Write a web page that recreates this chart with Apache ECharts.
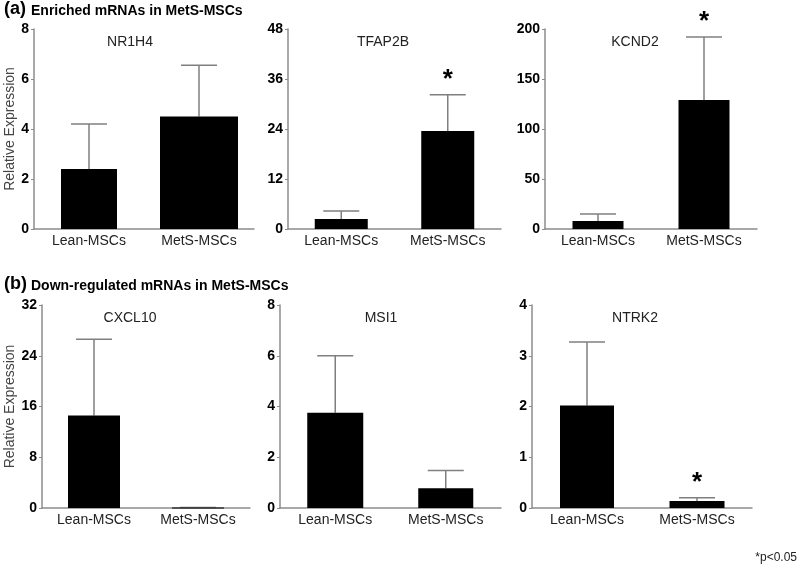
<!DOCTYPE html>
<html>
<head>
<meta charset="utf-8">
<script src="https://cdn.jsdelivr.net/npm/echarts@6/dist/echarts.min.js"></script>
<style>
  html, body { margin: 0; padding: 0; background: #fff; }
  #main { width: 800px; height: 569px; }
</style>
</head>
<body>
<div id="main"></div>
<script>
// groups and genes
const groups = ['Lean-MSCs', 'MetS-MSCs'];
const genes = ['NR1H4', 'TFAP2B', 'KCND2', 'CXCL10', 'MSI1', 'NTRK2'];
// y axis ranges
const yMax = [8, 48, 200, 32, 8, 4];
const yStep = [2, 12, 50, 8, 2, 1];
// mean relative expression
const meanLean = [2.4, 2.4, 8, 14.6, 3.75, 2.02];
const meanMetS = [4.5, 23.5, 129, 0.08, 0.78, 0.14];
// upper end of error bars
const errLean = [4.2, 4.3, 15, 26.6, 6.0, 3.27];
const errMetS = [6.55, 32.2, 192, 0.08, 1.48, 0.2];
// significance (*p<0.05)
const starLean = [0, 0, 0, 0, 0, 0];
const starMetS = [0, 1, 1, 0, 0, 1];

const FONT = '"Liberation Sans", Arial, sans-serif';

// panel layout
const grids = [
  { left: 34, top: 29, width: 220, height: 200 },
  { left: 288, top: 29, width: 213, height: 200 },
  { left: 545, top: 29, width: 212, height: 200 },
  { left: 42, top: 305, width: 208, height: 203 },
  { left: 280, top: 305, width: 221, height: 203 },
  { left: 532, top: 305, width: 220, height: 203 }
].map(g => Object.assign({ containLabel: false, outerBoundsMode: 'none' }, g));
const barW = [[56, 78], [53, 53], [51, 51], [52, 52], [56, 55], [54, 55]];
const titlePos = [[125, 30], [378, 30], [630, 30], [125, 306], [376, 306], [630, 306]];

const chart = echarts.init(document.getElementById('main'));

const makeRender = (k) => function (params, api) {
  const i = api.value(0);
  const mean = api.value(1);
  const top = api.value(2);
  const star = api.value(3);
  const base = api.coord([i, 0]);
  const p = api.coord([i, mean]);
  const e = api.coord([i, top]);
  const w = barW[k][i];
  const children = [
    {
      type: 'line',
      shape: { x1: p[0], y1: p[1], x2: e[0], y2: e[1] },
      style: { stroke: '#7f7f7f', lineWidth: 1.5 }
    },
    {
      type: 'line',
      shape: { x1: e[0] - 18, y1: e[1], x2: e[0] + 18, y2: e[1] },
      style: { stroke: '#7f7f7f', lineWidth: 1.5 }
    },
    {
      type: 'rect',
      shape: { x: base[0] - w / 2, y: p[1], width: w, height: Math.max(base[1] - p[1], 1) },
      style: { fill: '#000' }
    }
  ];
  if (star) {
    children.push({
      type: 'text',
      style: {
        text: '*', x: e[0], y: e[1] - 2,
        textAlign: 'center', textVerticalAlign: 'bottom',
        font: 'bold 26px ' + FONT, fill: '#000'
      }
    });
  }
  return { type: 'group', children: children };
};

const option = {
  animation: false,
  backgroundColor: '#fff',
  textStyle: { fontFamily: FONT },
  title: genes.map((g, k) => ({
    text: g,
    left: titlePos[k][0],
    top: titlePos[k][1],
    textAlign: 'center',
    textStyle: { fontSize: 14, fontWeight: 'normal', color: '#222', fontFamily: FONT }
  })),
  grid: grids,
  xAxis: genes.map((g, k) => ({
    type: 'category',
    gridIndex: k,
    data: groups,
    axisLine: { lineStyle: { color: '#8c8c8c', width: 1.5 } },
    axisTick: { show: false },
    axisLabel: { color: '#222', fontSize: 14, margin: 5, fontFamily: FONT }
  })),
  yAxis: genes.map((g, k) => ({
    type: 'value',
    gridIndex: k,
    min: 0,
    max: yMax[k],
    interval: yStep[k],
    name: (k === 0 || k === 3) ? 'Relative Expression' : '',
    nameLocation: 'middle',
    nameGap: k === 0 ? 16 : 24,
    nameTextStyle: { color: '#444', fontSize: 14, fontFamily: FONT },
    axisLine: { show: true, lineStyle: { color: '#8c8c8c', width: 1.5 } },
    axisTick: { show: true, length: 3, lineStyle: { color: '#8c8c8c' } },
    splitLine: { show: false },
    axisLabel: { color: '#000', fontSize: 14, fontWeight: 'bold', margin: 5, fontFamily: FONT }
  })),
  series: genes.map((g, k) => ({
    type: 'custom',
    xAxisIndex: k,
    yAxisIndex: k,
    clip: false,
    renderItem: makeRender(k),
    data: [
      [0, meanLean[k], errLean[k], starLean[k]],
      [1, meanMetS[k], errMetS[k], starMetS[k]]
    ]
  })),
  graphic: [
    { type: 'text', left: 4, top: 0, style: { text: '(a)', font: 'bold 18px ' + FONT, fill: '#000' } },
    { type: 'text', left: 31, top: 4, style: { text: 'Enriched mRNAs in MetS-MSCs', font: 'bold 14px ' + FONT, fill: '#000' } },
    { type: 'text', left: 4, top: 275, style: { text: '(b)', font: 'bold 18px ' + FONT, fill: '#000' } },
    { type: 'text', left: 31, top: 279, style: { text: 'Down-regulated mRNAs in MetS-MSCs', font: 'bold 14px ' + FONT, fill: '#000' } },
    { type: 'text', right: 3, top: 552, style: { text: '*p<0.05', font: '12px ' + FONT, fill: '#222' } }
  ]
};

chart.setOption(option);
</script>
</body>
</html>
